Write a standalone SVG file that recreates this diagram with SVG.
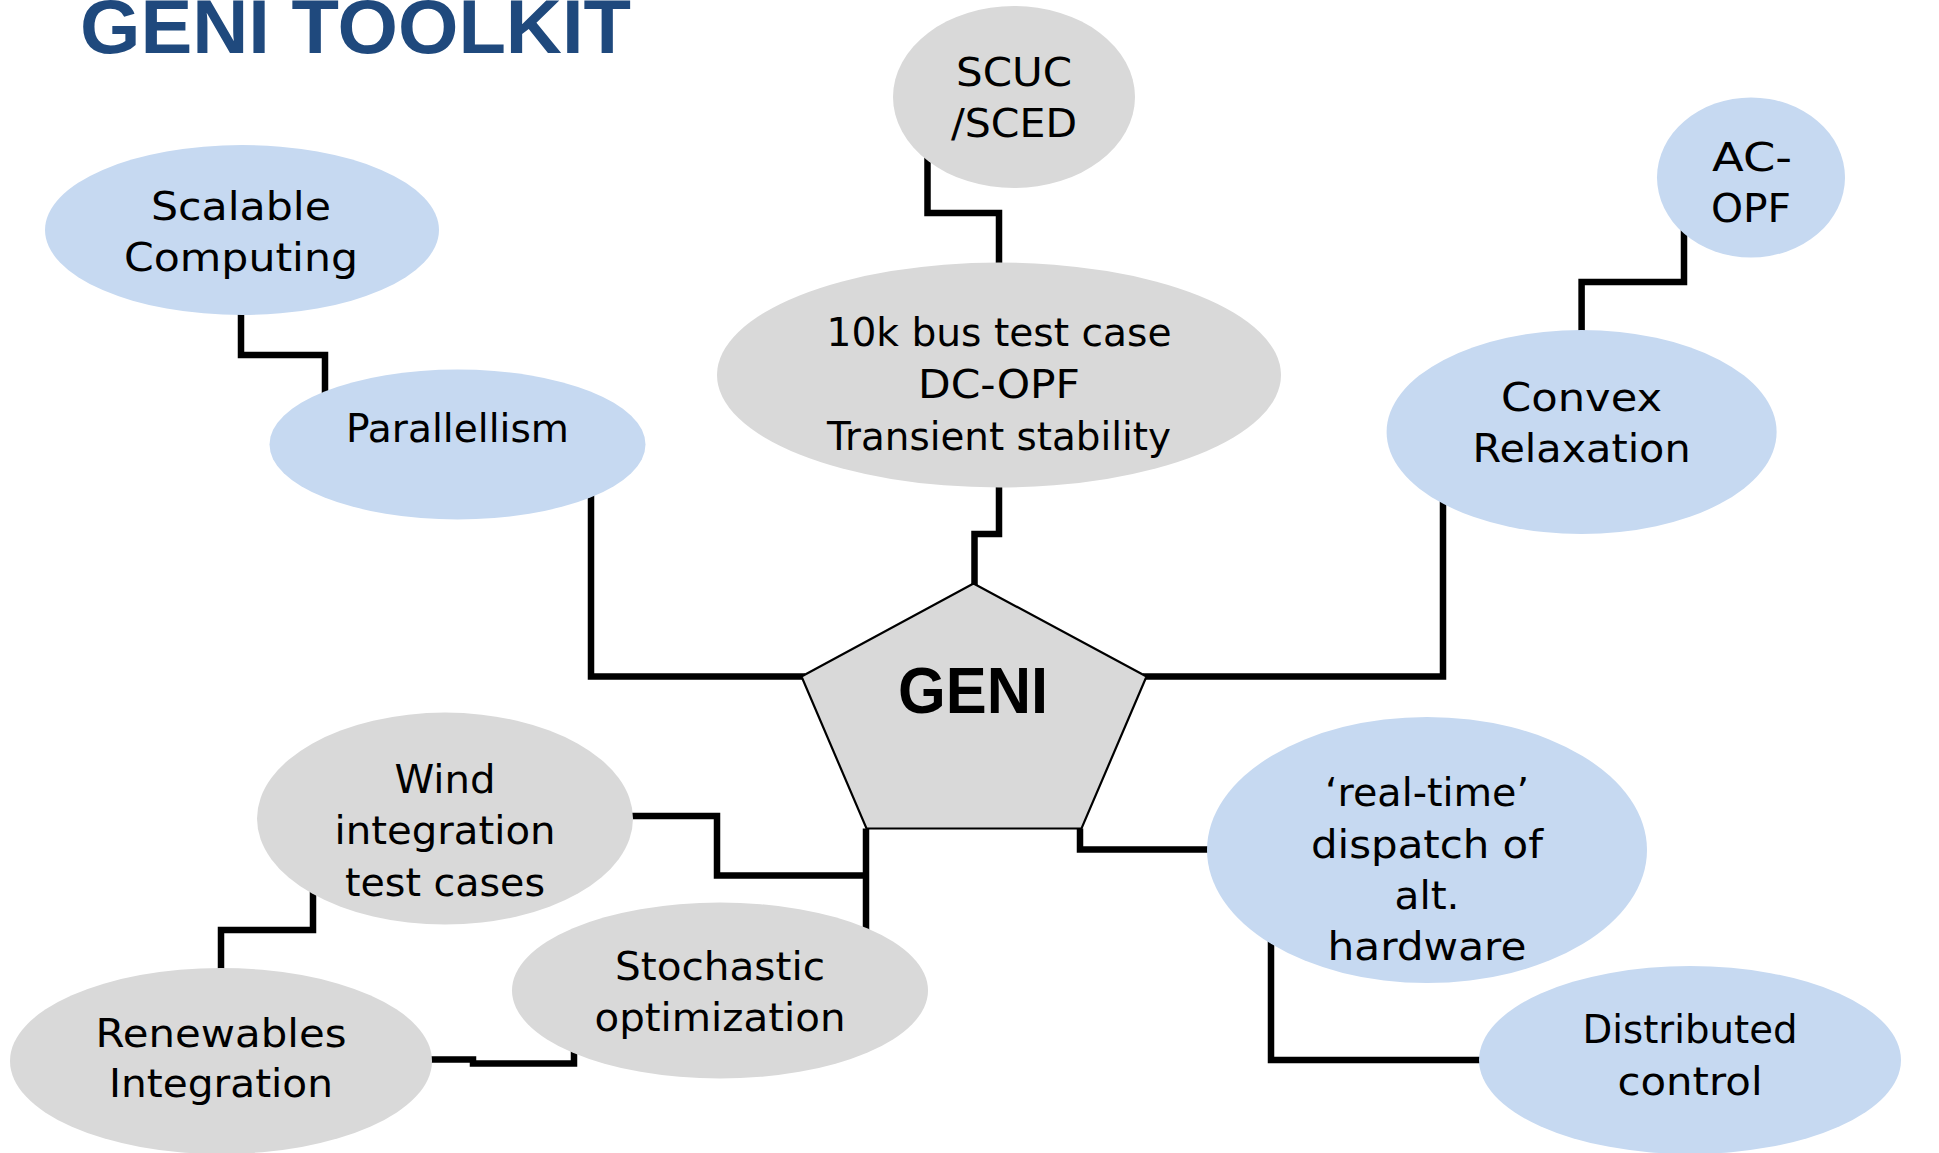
<svg xmlns="http://www.w3.org/2000/svg" width="1939" height="1153" viewBox="0 0 1939 1153">
  <style>
    .bg { fill: #ffffff; }
    .blue { fill: #C6D9F1; }
    .gray { fill: #D9D9D9; }
    .lbl { font-family: "DejaVu Sans", "Liberation Sans", sans-serif; font-size: 39px; fill: #000000; text-anchor: middle; }
    .wire { fill: none; stroke: #000000; stroke-width: 6.5; stroke-linejoin: miter; stroke-linecap: butt; }
    .title { font-family: "Liberation Sans", "DejaVu Sans", sans-serif; font-weight: bold; font-size: 76px; fill: #1F497D; }
    .hub { fill: #D9D9D9; stroke: #000000; stroke-width: 2.2; stroke-linejoin: miter; }
    .hubtxt { font-family: "Liberation Sans", "DejaVu Sans", sans-serif; font-weight: bold; font-size: 64px; fill: #000000; text-anchor: middle; }
  </style>

  <rect class="bg" x="0" y="0" width="1939" height="1153"/>

  <text class="title" x="80" y="53" textLength="551" lengthAdjust="spacingAndGlyphs">GENI TOOLKIT</text>

  <!-- elbow connectors, drawn beneath the nodes -->
  <g id="connectors">
    <path class="wire" d="M927.5,150 V213 H999 V275"/>
    <path class="wire" d="M999,470 V534 H974.5 V590"/>
    <path class="wire" d="M241,300 V355 H325 V400"/>
    <path class="wire" d="M591,490 V676.5 H805"/>
    <path class="wire" d="M1684,225 V282 H1581.6 V340"/>
    <path class="wire" d="M1443,500 V676.5 H1143"/>
    <path class="wire" d="M620,816 H717 V875.5 H866"/>
    <path class="wire" d="M866,828.5 V930"/>
    <path class="wire" d="M313,880 V930 H221 V980"/>
    <path class="wire" d="M420,1059.5 H473 V1063.5 H574 V1045"/>
    <path class="wire" d="M1080,828.5 V849.5 H1215"/>
    <path class="wire" d="M1271,935 V1060 H1490"/>
  </g>

  <g id="hub-geni">
    <polygon class="hub" points="973.5,583.5 1146.5,676.5 1081.5,828.5 866.5,828.5 801.5,676.5"/>
    <text class="hubtxt" x="973" y="713" textLength="150" lengthAdjust="spacingAndGlyphs">GENI</text>
  </g>

  <g id="node-scuc">
    <ellipse class="gray" cx="1014" cy="97" rx="121" ry="91"/>
    <text class="lbl" x="1014" y="86" textLength="116" lengthAdjust="spacingAndGlyphs">SCUC</text>
    <text class="lbl" x="1014" y="137" textLength="126" lengthAdjust="spacingAndGlyphs">/SCED</text>
  </g>

  <g id="node-testcase">
    <ellipse class="gray" cx="999" cy="375" rx="282" ry="112.5"/>
    <text class="lbl" x="999" y="346" textLength="345" lengthAdjust="spacingAndGlyphs">10k bus test case</text>
    <text class="lbl" x="999" y="398" textLength="162" lengthAdjust="spacingAndGlyphs">DC-OPF</text>
    <text class="lbl" x="999" y="450" textLength="344" lengthAdjust="spacingAndGlyphs">Transient stability</text>
  </g>

  <g id="node-scalable">
    <ellipse class="blue" cx="242" cy="230" rx="197" ry="85"/>
    <text class="lbl" x="241" y="220" textLength="180" lengthAdjust="spacingAndGlyphs">Scalable</text>
    <text class="lbl" x="241" y="271" textLength="234" lengthAdjust="spacingAndGlyphs">Computing</text>
  </g>

  <g id="node-parallellism">
    <ellipse class="blue" cx="457.5" cy="444.5" rx="188" ry="75"/>
    <text class="lbl" x="457.5" y="442" textLength="223" lengthAdjust="spacingAndGlyphs">Parallellism</text>
  </g>

  <g id="node-acopf">
    <ellipse class="blue" cx="1751" cy="177.5" rx="94" ry="80"/>
    <text class="lbl" x="1752" y="171" textLength="80" lengthAdjust="spacingAndGlyphs">AC-</text>
    <text class="lbl" x="1751" y="222" textLength="80" lengthAdjust="spacingAndGlyphs">OPF</text>
  </g>

  <g id="node-convex">
    <ellipse class="blue" cx="1581.6" cy="432" rx="195" ry="102"/>
    <text class="lbl" x="1581.6" y="411" textLength="161" lengthAdjust="spacingAndGlyphs">Convex</text>
    <text class="lbl" x="1581.6" y="462" textLength="218" lengthAdjust="spacingAndGlyphs">Relaxation</text>
  </g>

  <g id="node-wind">
    <ellipse class="gray" cx="445" cy="818.6" rx="188" ry="106"/>
    <text class="lbl" x="445" y="793" textLength="101" lengthAdjust="spacingAndGlyphs">Wind</text>
    <text class="lbl" x="445" y="844" textLength="221" lengthAdjust="spacingAndGlyphs">integration</text>
    <text class="lbl" x="445" y="896" textLength="200" lengthAdjust="spacingAndGlyphs">test cases</text>
  </g>

  <g id="node-stochastic">
    <ellipse class="gray" cx="720" cy="990.5" rx="208" ry="88"/>
    <text class="lbl" x="720" y="980" textLength="210" lengthAdjust="spacingAndGlyphs">Stochastic</text>
    <text class="lbl" x="720" y="1031" textLength="251" lengthAdjust="spacingAndGlyphs">optimization</text>
  </g>

  <g id="node-renewables">
    <ellipse class="gray" cx="221" cy="1061" rx="211" ry="93"/>
    <text class="lbl" x="221" y="1047" textLength="251" lengthAdjust="spacingAndGlyphs">Renewables</text>
    <text class="lbl" x="221" y="1097" textLength="224" lengthAdjust="spacingAndGlyphs">Integration</text>
  </g>

  <g id="node-realtime">
    <ellipse class="blue" cx="1427" cy="850" rx="220" ry="133"/>
    <text class="lbl" x="1427" y="806" textLength="204" lengthAdjust="spacingAndGlyphs">&#8216;real-time&#8217;</text>
    <text class="lbl" x="1427" y="858" textLength="232" lengthAdjust="spacingAndGlyphs">dispatch of</text>
    <text class="lbl" x="1427" y="909" textLength="65" lengthAdjust="spacingAndGlyphs">alt.</text>
    <text class="lbl" x="1427" y="960" textLength="199" lengthAdjust="spacingAndGlyphs">hardware</text>
  </g>

  <g id="node-distributed">
    <ellipse class="blue" cx="1690" cy="1060" rx="211" ry="94"/>
    <text class="lbl" x="1690" y="1043" textLength="215" lengthAdjust="spacingAndGlyphs">Distributed</text>
    <text class="lbl" x="1690" y="1095" textLength="145" lengthAdjust="spacingAndGlyphs">control</text>
  </g>
</svg>
